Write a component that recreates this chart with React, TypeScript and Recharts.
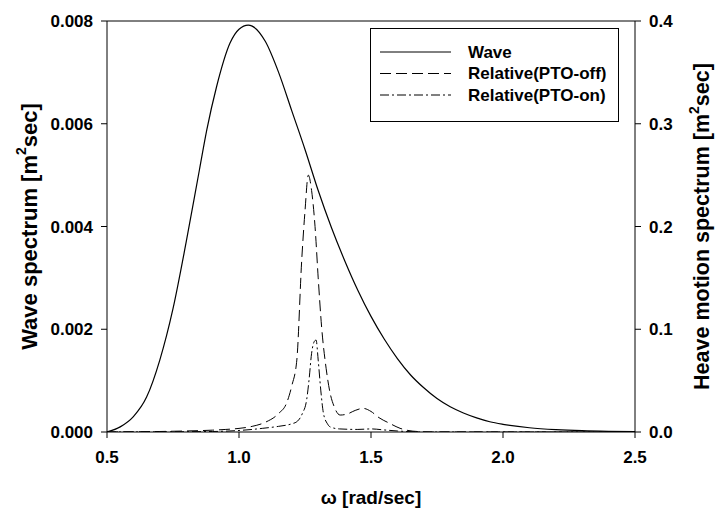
import React from 'react';
import { LineChart, Line, XAxis, YAxis, ReferenceLine, Legend } from 'recharts';

const FONT = '"Liberation Sans", Arial, sans-serif';

const xTicks = [0.5, 1.0, 1.5, 2.0, 2.5];
const leftTicks = [0, 0.002, 0.004, 0.006, 0.008];
const rightTicks = [0, 0.1, 0.2, 0.3, 0.4];

// Wave spectrum (left axis)
const waveW = [0.5, 0.55, 0.6, 0.65, 0.7, 0.75, 0.8, 0.85, 0.878, 0.915, 0.966, 1.0, 1.035, 1.05, 1.1, 1.15, 1.2, 1.25, 1.3, 1.35, 1.4, 1.45, 1.5, 1.55, 1.6, 1.65, 1.7, 1.75, 1.8, 1.85, 1.9, 1.95, 2.0, 2.1, 2.2, 2.3, 2.4, 2.5];
const waveS = [0, 0.0001, 0.0003, 0.00068, 0.0014, 0.0024, 0.0037, 0.0051, 0.00588, 0.00672, 0.00757, 0.00784, 0.00792, 0.0079, 0.0076, 0.007, 0.00625, 0.0055, 0.0047, 0.00398, 0.00334, 0.00276, 0.00225, 0.00181, 0.00143, 0.00111, 0.00086, 0.00065, 0.00049, 0.00037, 0.000275, 0.0002, 0.00015, 0.000083, 0.000046, 0.000025, 0.000014, 0.000008];

// Relative (PTO-off) heave spectrum (right axis)
const offW = [0.5, 0.7, 0.8, 0.9, 0.95, 1.0, 1.05, 1.1, 1.15, 1.18, 1.2, 1.219, 1.2375, 1.25, 1.2625, 1.275, 1.288, 1.3, 1.313, 1.33, 1.345, 1.36, 1.383, 1.41, 1.44, 1.47, 1.5, 1.53, 1.57, 1.61, 1.64, 1.68, 1.72, 2.5];
const offS = [0, 0.0005, 0.001, 0.0018, 0.0025, 0.0035, 0.0055, 0.0095, 0.018, 0.028, 0.045, 0.07, 0.167, 0.215, 0.25, 0.235, 0.2, 0.15, 0.102, 0.062, 0.038, 0.025, 0.0165, 0.0175, 0.021, 0.023, 0.02, 0.014, 0.0085, 0.0036, 0.0015, 0.0004, 0, 0];

// Relative (PTO-on) heave spectrum (right axis)
const onW = [0.5, 0.9, 1.0, 1.05, 1.09, 1.15, 1.2, 1.219, 1.24, 1.256, 1.265, 1.275, 1.285, 1.292, 1.3, 1.31, 1.32, 1.335, 1.345, 1.38, 1.45, 1.5, 1.55, 1.6, 1.7, 2.5];
const onS = [0, 0.0005, 0.0015, 0.0025, 0.0036, 0.0055, 0.008, 0.01, 0.018, 0.031, 0.05, 0.0766, 0.088, 0.0895, 0.07, 0.04, 0.018, 0.008, 0.005, 0.003, 0.0025, 0.003, 0.002, 0.001, 0, 0];

const legendNames = ['Wave', 'Relative(PTO-off)', 'Relative(PTO-on)'];
const dashes = ['', '11 5', '9 3 2 3'];

const waveData = waveW.map((w, i) => ({ w, v: waveS[i] }));
const offData = offW.map((w, i) => ({ w, v: offS[i] }));
const onData = onW.map((w, i) => ({ w, v: onS[i] }));

const tickStyle = { fill: '#000', fontSize: 17, fontWeight: 'bold', fontFamily: FONT } as any;

const LeftTitle = (props: any) => {
  const vb = props.viewBox || { x: 0, y: 21, width: 107, height: 411 };
  const cx = vb.x + 29;
  const cy = vb.y + vb.height / 2;
  return (
    <text x={cx} y={cy} transform={`rotate(-90, ${cx}, ${cy})`} textAnchor="middle" dominantBaseline="central"
      fontSize={22} fontWeight="bold" fontFamily={FONT} fill="#000">
      Wave spectrum [m<tspan dy={-8} fontSize={14}>2</tspan><tspan dy={8}>sec]</tspan>
    </text>
  );
};

const RightTitle = (props: any) => {
  const vb = props.viewBox || { x: 635, y: 21, width: 82, height: 411 };
  const cx = vb.x + 67;
  const cy = vb.y + vb.height / 2;
  return (
    <text x={cx} y={cy} transform={`rotate(-90, ${cx}, ${cy})`} textAnchor="middle" dominantBaseline="central"
      fontSize={21.5} fontWeight="bold" fontFamily={FONT} fill="#000">
      Heave motion spectrum [m<tspan dy={-8} fontSize={14}>2</tspan><tspan dy={8}>sec]</tspan>
    </text>
  );
};

const XTitle = (props: any) => {
  const vb = props.viewBox || { x: 107, y: 432, width: 528, height: 82 };
  const cx = vb.x + vb.width / 2;
  const cy = vb.y + 65;
  return (
    <text x={cx} y={cy} textAnchor="middle" dominantBaseline="central"
      fontSize={19} fontWeight="bold" fontFamily={FONT} fill="#000">
      ω [rad/sec]
    </text>
  );
};

const LegendBox = () => {
  const W = 249;
  const H = 94;
  return (
    <svg width={W} height={H} style={{ display: 'block' }}>
      <rect x={0.5} y={0.5} width={W - 1} height={H - 1} fill="#fff" stroke="#000" strokeWidth={1} />
      {legendNames.map((n, i) => (
        <g key={n}>
          <line x1={10} x2={81} y1={24 + i * 21.5} y2={24 + i * 21.5} stroke="#000" strokeWidth={1}
            strokeDasharray={dashes[i] || undefined} />
          <text x={98} y={24 + i * 21.5} dominantBaseline="central" fontSize={17} fontWeight="bold" fontFamily={FONT} fill="#000">{n}</text>
        </g>
      ))}
    </svg>
  );
};

export default function App() {
  return (
    <div style={{ position: 'absolute', left: 0, top: 0, width: 717, height: 514, background: '#fff' }}>
      <LineChart width={717} height={514} margin={{ top: 21, right: 0, bottom: 0, left: 0 }} style={{ fontFamily: FONT }}>
        <XAxis type="number" dataKey="w" domain={[0.5, 2.5]} ticks={xTicks} allowDataOverflow
          tickFormatter={(v: number) => v.toFixed(1)} height={82} tickSize={6} tickMargin={13}
          stroke="#000" tick={tickStyle} label={XTitle} />
        <YAxis yAxisId="left" domain={[0, 0.008]} ticks={leftTicks} allowDataOverflow width={107}
          tickFormatter={(v: number) => v.toFixed(3)} tickSize={6} tickMargin={8}
          stroke="#000" tick={tickStyle} label={LeftTitle} />
        <YAxis yAxisId="right" orientation="right" domain={[0, 0.4]} ticks={rightTicks} allowDataOverflow width={82}
          tickFormatter={(v: number) => v.toFixed(1)} tickSize={6} tickMargin={8}
          stroke="#000" tick={tickStyle} label={RightTitle} />
        <ReferenceLine yAxisId="left" y={0.008} stroke="#000" strokeWidth={1} />
        <Line data={waveData} dataKey="v" yAxisId="left" type="monotone" stroke="#000" strokeWidth={1.2}
          dot={false} isAnimationActive={false} name={legendNames[0]} />
        <Line data={offData} dataKey="v" yAxisId="right" type="monotone" stroke="#000" strokeWidth={1}
          strokeDasharray={dashes[1]} dot={false} isAnimationActive={false} name={legendNames[1]} />
        <Line data={onData} dataKey="v" yAxisId="right" type="monotone" stroke="#000" strokeWidth={1}
          strokeDasharray={dashes[2]} dot={false} isAnimationActive={false} name={legendNames[2]} />
        <Legend layout="vertical" align="center" verticalAlign="middle" content={LegendBox}
          wrapperStyle={{ position: 'absolute', left: 370, top: 28, width: 249, height: 94 }} />
      </LineChart>
    </div>
  );
}
